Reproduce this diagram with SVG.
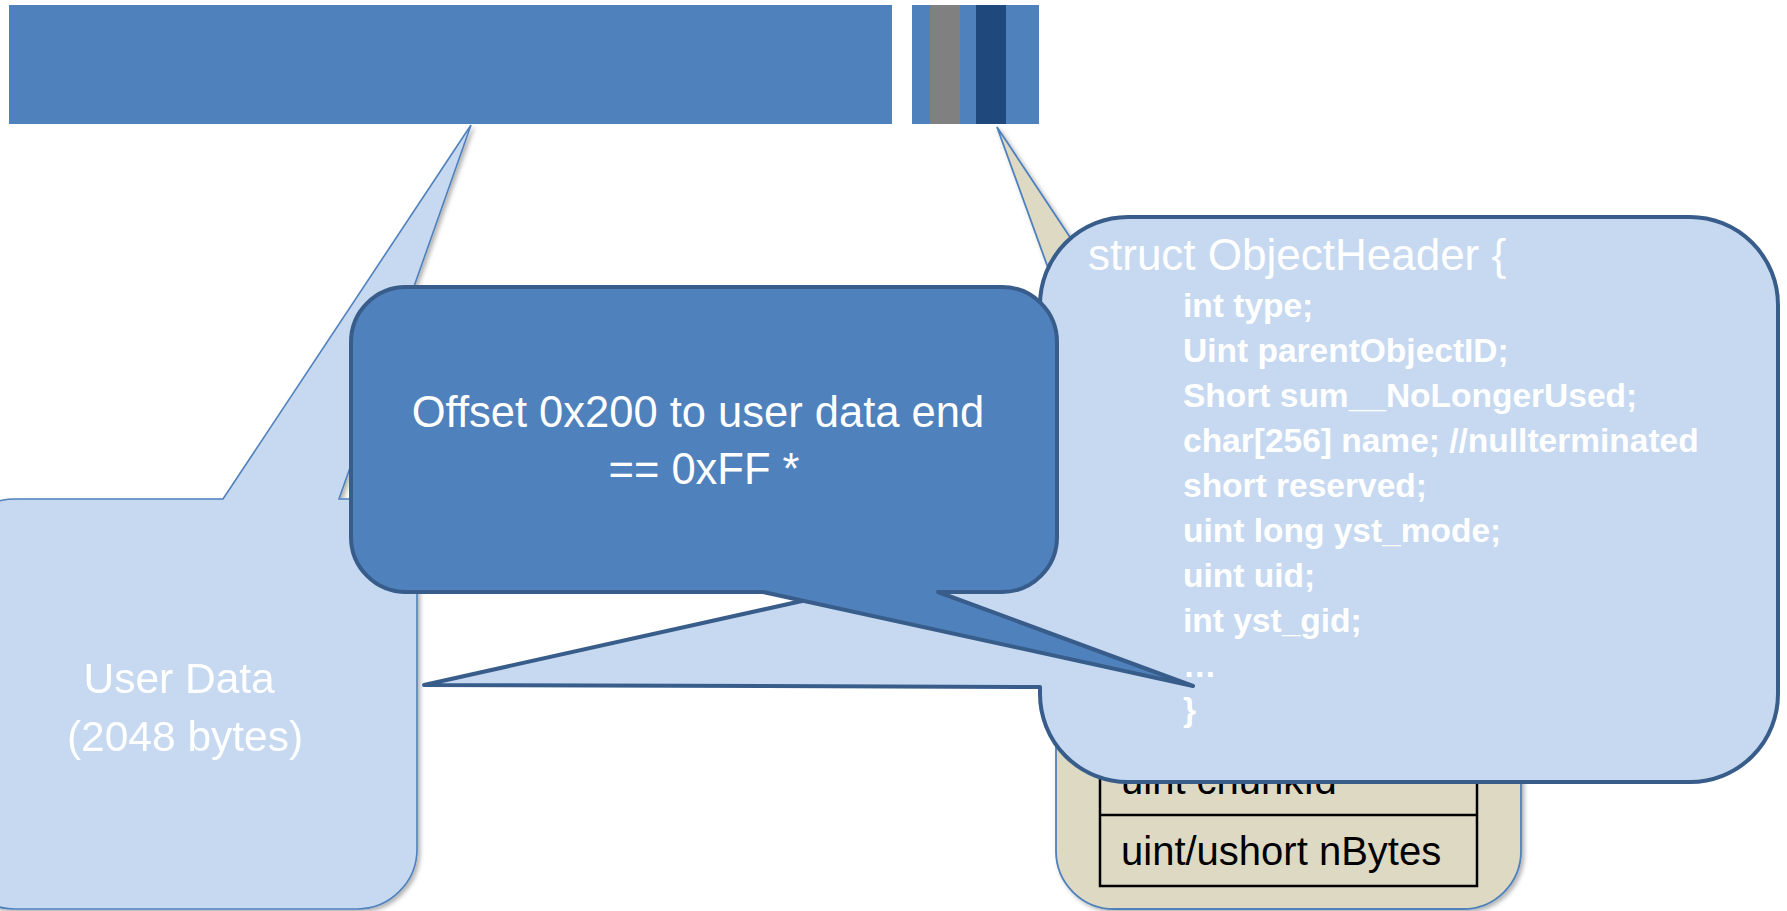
<svg xmlns="http://www.w3.org/2000/svg" width="1787" height="911" viewBox="0 0 1787 911">
  <style>
    .bar { fill: #4F81BD; }
    .soft { fill: #C6D9F1; stroke: #4F81BD; stroke-width: 1.6; stroke-linejoin: miter; }
    .tan { fill: #DDD9C3; stroke: #4F81BD; stroke-width: 1.8; }
    .strong { stroke: #385D8A; stroke-width: 4; stroke-linejoin: round; }
    .label { font-family: "Liberation Sans", Arial, sans-serif; fill: #FFFFFF; }
    .code { font-family: "Liberation Sans", Arial, sans-serif; fill: #FFFFFF; font-weight: bold; font-size: 33.5px; }
    .cell { font-family: "Liberation Sans", Arial, sans-serif; fill: #000000; font-size: 40px; }
    .grid { stroke: #000000; stroke-width: 2.5; fill: none; }
  </style>
  <defs>
    <filter id="shade" x="-10%" y="-10%" width="130%" height="130%">
      <feDropShadow dx="2.5" dy="2.5" stdDeviation="2" flood-color="#000000" flood-opacity="0.3"/>
    </filter>
  </defs>

  <!-- storage strip: user data block and header block -->
  <g id="data-strip">
    <rect class="bar" x="9" y="5" width="883" height="119"/>
  </g>
  <g id="header-strip">
    <rect class="bar" x="912" y="5" width="127" height="119"/>
    <rect x="930" y="5" width="30" height="119" fill="#808080"/>
    <rect x="976" y="5" width="30" height="119" fill="#1F497D"/>
  </g>

  <!-- user data callout -->
  <g id="user-data" filter="url(#shade)">
    <path class="soft" d="M 15,499 H 223 L 471,125 L 339,499 H 357 A 60 60 0 0 1 417,559 V 849 A 60 60 0 0 1 357,909 H 15 A 60 60 0 0 1 -45,849 V 559 A 60 60 0 0 1 15,499 Z"/>
    <text class="label" font-size="42.5" text-anchor="middle">
      <tspan x="185" y="693">User Data</tspan>
      <tspan x="185" y="751">(2048 bytes)</tspan>
    </text>
  </g>

  <!-- chunk tag callout -->
  <g id="chunk-tags">
    <path class="tan" filter="url(#shade)" d="M 1114,450 L 997,127 L 1211,450 H 1463 A 58 58 0 0 1 1521,508 V 851 A 58 58 0 0 1 1463,909 H 1114 A 58 58 0 0 1 1056,851 V 508 A 58 58 0 0 1 1114,450 Z"/>
    <path class="grid" d="M 1100,600 V 886 H 1477 V 600 M 1100,815 H 1477"/>
    <text class="cell" x="1121" y="794">uint chunkId</text>
    <text class="cell" x="1121" y="865">uint/ushort nBytes</text>
  </g>

  <!-- object header callout -->
  <g id="object-header">
    <path class="strong" fill="#C6D9F1" d="M 1128,217 H 1690 A 88 88 0 0 1 1778,305 V 694 A 88 88 0 0 1 1690,782 H 1128 A 88 88 0 0 1 1040,694 V 687 L 424,685 L 1040,548 V 305 A 88 88 0 0 1 1128,217 Z"/>
    <text class="label" x="1088" y="270" font-size="44">struct ObjectHeader {</text>
    <text class="code">
      <tspan x="1183" y="317">int type;</tspan>
      <tspan x="1183" y="362">Uint parentObjectID;</tspan>
      <tspan x="1183" y="407">Short sum__NoLongerUsed;</tspan>
      <tspan x="1183" y="452">char[256] name; //nullterminated</tspan>
      <tspan x="1183" y="497">short reserved;</tspan>
      <tspan x="1183" y="542">uint long yst_mode;</tspan>
      <tspan x="1183" y="587">uint uid;</tspan>
      <tspan x="1183" y="632">int yst_gid;</tspan>
      <tspan x="1183" y="677">…</tspan>
      <tspan x="1183" y="721">}</tspan>
    </text>
  </g>

  <!-- erased-tail note callout -->
  <g id="offset-note">
    <path class="strong" fill="#4F81BD" d="M 406,287 H 1002 A 55 55 0 0 1 1057,342 V 537 A 55 55 0 0 1 1002,592 H 938 L 1193,686 L 763,592 H 406 A 55 55 0 0 1 351,537 V 342 A 55 55 0 0 1 406,287 Z"/>
    <text class="label" font-size="43.5" text-anchor="middle">
      <tspan x="704" y="427">Offset 0x200 to user data end</tspan>
      <tspan x="704" y="484">== 0xFF *</tspan>
    </text>
  </g>
</svg>
